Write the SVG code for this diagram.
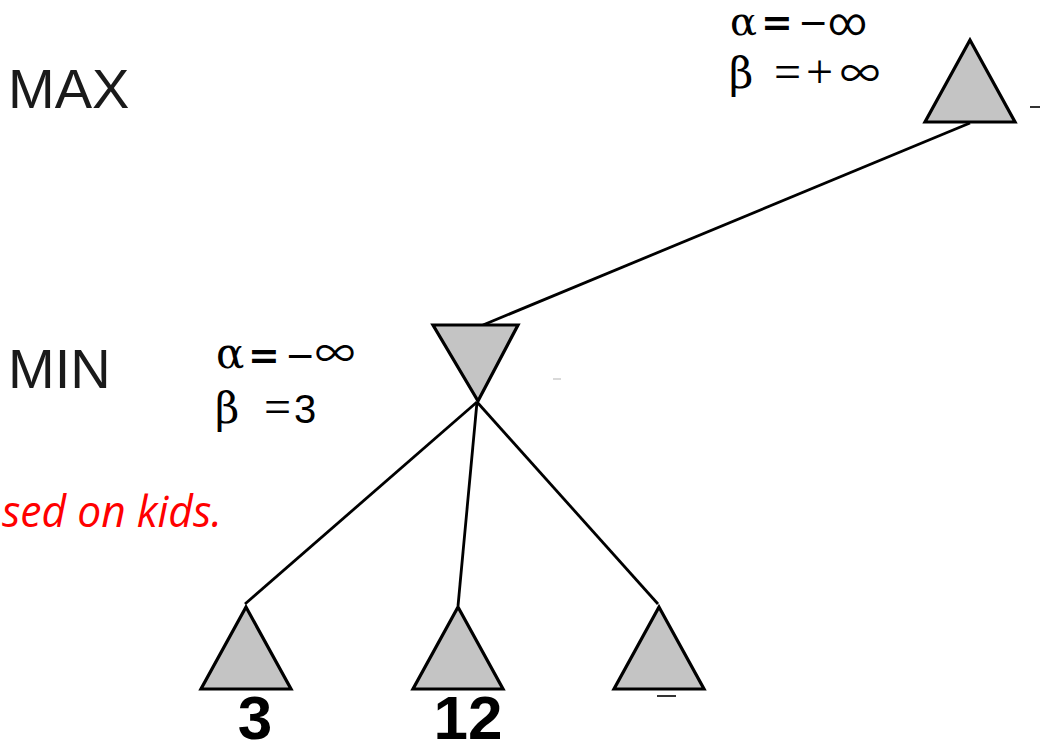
<svg xmlns="http://www.w3.org/2000/svg" width="1044" height="753" viewBox="0 0 1044 753">
<style>
.tri{fill:#c4c4c4;stroke:#000;stroke-width:3.2;stroke-linejoin:miter}
.edge{stroke:#000;stroke-width:2.8;fill:none}
.lvl{font-family:"Liberation Sans",Arial,sans-serif;font-size:56px;fill:#1a1a1a}
.ab{font-family:"DejaVu Serif","Liberation Serif",serif;font-size:42px;fill:#000}
.inf{font-family:"Noto Sans CJK JP","DejaVu Serif",serif;font-size:40px}
.inf2{font-family:Roboto,"DejaVu Serif",serif;font-size:38px}
.op{font-family:"Liberation Serif","Times New Roman",serif;font-size:48px}
.bop{font-family:"DejaVu Sans","Liberation Sans",sans-serif;font-weight:bold;font-size:38px}
.mn{font-family:"DejaVu Sans","Liberation Sans",sans-serif;font-size:36px}
.num{font-family:"Liberation Sans",Arial,sans-serif;font-size:40px}
.val{font-family:"Liberation Sans",Arial,sans-serif;font-size:62px;font-weight:bold;fill:#000}
.note{font-family:"Open Sans","Noto Sans",sans-serif;font-style:italic;font-size:43px;fill:#ff0000}
.tick{stroke:#333;stroke-width:2}
</style>
<rect width="1044" height="753" fill="#fff"/>
<text class="lvl" x="8" y="108">MAX</text>
<text class="lvl" x="8" y="388">MIN</text>
<text class="note" x="2" y="527" textLength="220" lengthAdjust="spacingAndGlyphs">sed on kids.</text>
<g id="connectors">
<line class="edge" x1="970" y1="123" x2="483" y2="325"/>
<line class="edge" x1="477" y1="402" x2="245" y2="604"/>
<line class="edge" x1="477" y1="402" x2="458" y2="606"/>
<line class="edge" x1="477" y1="402" x2="658" y2="604"/>
</g>
<g id="root">
<polygon class="tri" points="970,40 925,122 1015,122"/>
<line class="tick" x1="1030" y1="107" x2="1040" y2="107"/>
<text class="ab" y="35"><tspan x="730" font-size="40">α</tspan><tspan class="bop" x="761">=</tspan><tspan class="mn" x="798">−</tspan><tspan class="inf2" x="828">∞</tspan></text>
<text class="ab" y="88"><tspan x="729">β</tspan><tspan class="op" x="774">=</tspan><tspan class="op" x="806">+</tspan><tspan class="inf" x="840">∞</tspan></text>
</g>
<g id="min">
<polygon class="tri" points="433,325 518,325 478,401"/>
<line x1="553" y1="379" x2="561" y2="379" stroke="#ccc" stroke-width="1.5"/>
<text class="ab" y="368"><tspan x="216">α</tspan><tspan class="bop" x="248">=</tspan><tspan class="mn" x="285">−</tspan><tspan class="inf" x="315">∞</tspan></text>
<text class="ab" y="423"><tspan x="215">β</tspan><tspan class="op" x="264">=</tspan><tspan class="num" x="294">3</tspan></text>
</g>
<g id="leaf1">
<polygon class="tri" points="246,607 201,689 291,689"/>
<text class="val" x="255" y="739" text-anchor="middle">3</text>
</g>
<g id="leaf2">
<polygon class="tri" points="458,607 413,689 503,689"/>
<text class="val" x="468" y="739" text-anchor="middle">12</text>
</g>
<g id="leaf3">
<polygon class="tri" points="659,607 614,689 704,689"/>
<line class="tick" x1="657" y1="696" x2="676" y2="696"/>
</g>
</svg>
